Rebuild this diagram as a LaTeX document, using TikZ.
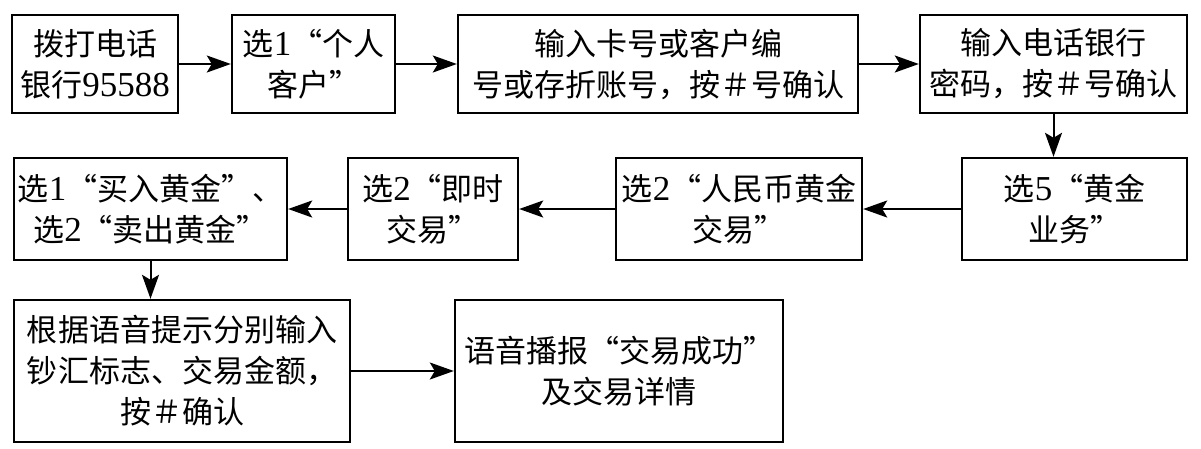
\documentclass[tikz,border=0pt]{standalone}
\usepackage{fontspec}
\newfontfamily\cjk{Noto Sans CJK SC}
\newfontfamily\numfont{Liberation Serif}
\usepackage{tikz}
\usetikzlibrary{arrows.meta,positioning}
\newcommand{\nm}[1]{{\numfont\fontsize{35}{40}\selectfont #1}}

\begin{document}
\begin{tikzpicture}[x=1pt, y=-1pt,
      box/.style={draw, line width=2.4pt, minimum height=98pt, inner sep=2pt,
                  align=center, font=\cjk\fontsize{31}{41}\selectfont},
      arr/.style={-{Stealth[length=24pt, width=17pt, inset=5pt]}, line width=2pt}
    ]
    \useasboundingbox (0,0) rectangle (1201,448);

    % first row
    \node[box, minimum width=166pt] (dial)   at (95,64)     {拨打电话\\银行\nm{95588}};
    \node[box, minimum width=163pt] (person) at (313.5,64)  {选\nm{1}“个人\\客户”};
    \node[box, minimum width=400pt] (card)   at (658,64)    {输入卡号或客户编\\号或存折账号，按＃号确认};
    \node[box, minimum width=267pt] (pwd)    at (1053.5,64) {输入电话银行\\密码，按＃号确认};

    % second row, right to left
    \node[box, minimum width=225pt, minimum height=102pt] (gold) at (1074.5,209) {选\nm{5}“黄金\\业务”};
    \node[box, minimum width=246pt, minimum height=102pt] (rmb)  at (739,209)    {选\nm{2}“人民币黄金\\交易”};
    \node[box, minimum width=170pt, minimum height=102pt] (spot) at (433,209)    {选\nm{2}“即时\\交易”};
    \node[box, minimum width=273pt, minimum height=102pt] (buy)  at (150.5,209)  {选\nm{1}“买入黄金”、\\选\nm{2}“卖出黄金”};

    % third row
    \node[box, minimum width=336pt, minimum height=142pt] (input) at (182,371) {根据语音提示分别输入\\钞汇标志、交易金额，\\按＃确认};
    \node[box, minimum width=328pt, minimum height=142pt] (done)  at (619,371) {语音播报“交易成功”\\及交易详情};

    \draw[arr] (dial) -- (person);
    \draw[arr] (person) -- (card);
    \draw[arr] (card) -- (pwd);
    \draw[arr] (pwd.south) -- (pwd.south |- gold.north);
    \draw[arr] (gold) -- (rmb);
    \draw[arr] (rmb) -- (spot);
    \draw[arr] (spot) -- (buy);
    \draw[arr] (buy.south) -- (buy.south |- input.north);
    \draw[arr] (input) -- (done);
  \end{tikzpicture}
\end{document}
